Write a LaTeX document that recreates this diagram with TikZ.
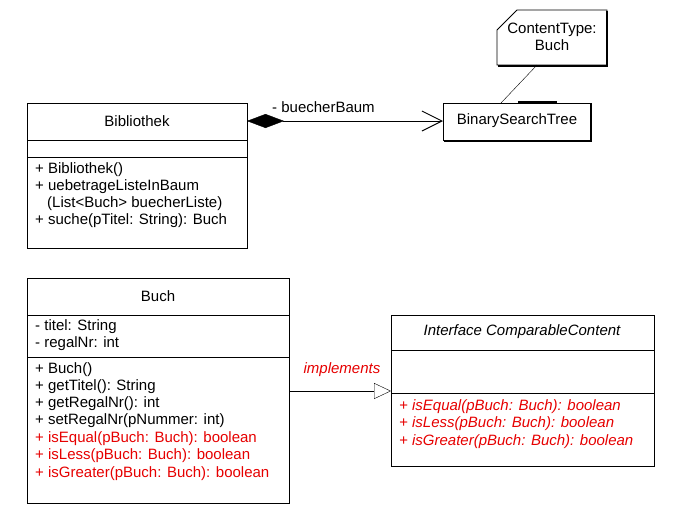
\documentclass[tikz,border=0pt]{standalone}
\usepackage{fontspec}
\setmainfont{Liberation Sans}
\usetikzlibrary{arrows.meta}
\definecolor{implred}{RGB}{230,0,0}
\tikzset{
  box/.style={draw, line width=0.8pt},
  txt/.style={right, inner sep=0pt, font=\fontsize{15}{17}\selectfont},
  ctr/.style={inner sep=0pt, font=\fontsize{15}{17}\selectfont, align=center},
  red/.style={text=implred, font=\fontsize{15}{17}\selectfont\itshape}
}
\begin{document}
\begin{tikzpicture}[x=1pt,y=-1pt]
\useasboundingbox (0,0) rectangle (686,515);

% Bibliothek
\draw [box] (27,103) rectangle (247,248);
\draw (27,140) -- (247,140);
\draw (27,157) -- (247,157);
\draw node (bib) at (137,121) [ctr] {Bibliothek};
\draw node at (35,170) [txt] {+ Bibliothek()};
\draw node at (35,187) [txt] {+ uebetrageListeInBaum};
\draw node at (47,204) [txt] {(List<Buch> buecherListe)};
\draw node at (35,221) [txt] {+ suche(pTitel: String): Buch};
\coordinate (bibE) at (247,121);

% BinarySearchTree
\draw [box] (443,103) rectangle (591,140);
\draw [line width=1.2pt] (591,104) -- (591,141) -- (444,141);
\draw node (bst) at (517,121) [ctr] {BinarySearchTree};
\coordinate (bstW) at (443,121);
\draw [line width=1.2pt] (518,102) -- (557,102);

% note
\draw [box] (497,30) -- (517,10) -- (607,10) -- (607,65) -- (497,65) -- cycle;
\draw [line width=1.2pt] (607,11) -- (607,66) -- (498,66);
\draw node (note) at (552,37) [ctr] {ContentType:\\Buch};
\coordinate (noteS) at (537,65);
\coordinate (bstN) at (501,103);
\draw (noteS) -- (bstN);

% aggregation
\draw [{Diamond[length=37pt,width=14pt,fill=black]}-{Straight Barb[length=20pt,width=20pt,line width=1pt]}] (bibE) -- (bstW);
\draw node at (272,107) [txt] {- buecherBaum};

% Buch
\draw [box] (27,278) rectangle (289,503);
\draw (27,315) -- (289,315);
\draw (27,357) -- (289,357);
\draw node (buch) at (158,296) [ctr] {Buch};
\draw node at (35,327) [txt] {- titel: String};
\draw node at (35,344) [txt] {- regalNr: int};
\draw node at (35,370) [txt] {+ Buch()};
\draw node at (35,387) [txt] {+ getTitel(): String};
\draw node at (35,404) [txt] {+ getRegalNr(): int};
\draw node at (35,421) [txt] {+ setRegalNr(pNummer: int)};
\draw node at (35,439) [txt, text=implred] {+ isEqual(pBuch: Buch): boolean};
\draw node at (35,456) [txt, text=implred] {+ isLess(pBuch: Buch): boolean};
\draw node at (35,474) [txt, text=implred] {+ isGreater(pBuch: Buch): boolean};
\coordinate (buchE) at (289,391);

% Interface
\draw [box] (391,315) rectangle (654,466);
\draw (391,350) -- (654,350);
\draw (391,393) -- (654,393);
\draw node (cc) at (522,332) [ctr, font=\fontsize{15}{17}\selectfont\itshape] {Interface ComparableContent};
\draw node at (399,407) [txt, red] {+ isEqual(pBuch: Buch): boolean};
\draw node at (399,424) [txt, red] {+ isLess(pBuch: Buch): boolean};
\draw node at (399,442) [txt, red] {+ isGreater(pBuch: Buch): boolean};
\coordinate (ccW) at (391,391);

% realization
\draw [-{Triangle[open,length=17pt,width=16pt,fill=white]}] (buchE) -- (ccW);
\draw node at (342,370) [ctr, red] {implements};
\end{tikzpicture}
\end{document}
